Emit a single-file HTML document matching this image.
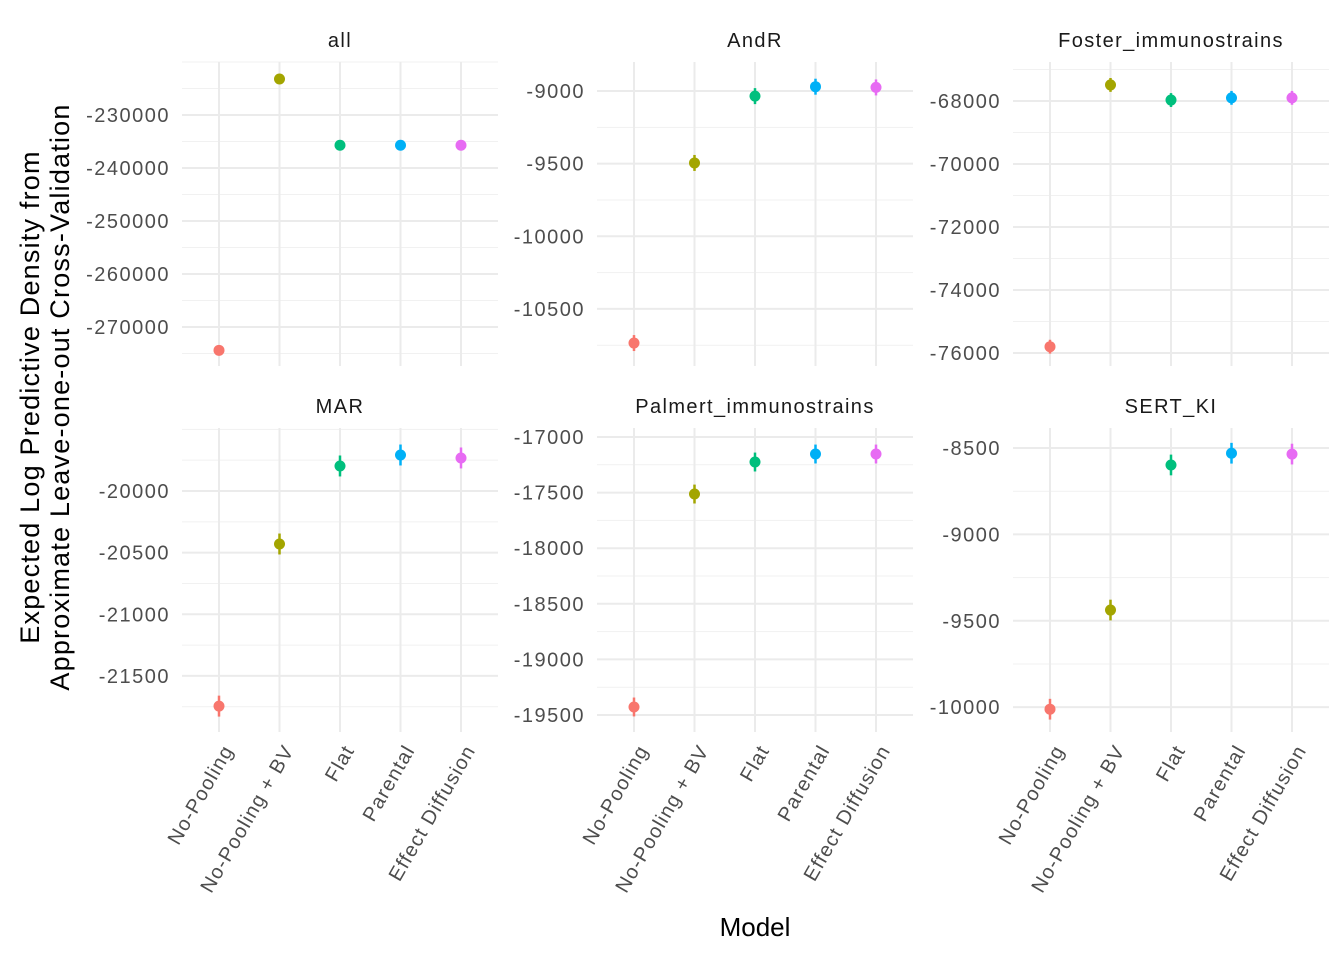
<!DOCTYPE html>
<html><head><meta charset="utf-8"><style>
html,body{margin:0;padding:0;background:#fff;}
svg{display:block;font-family:"Liberation Sans",sans-serif;}
</style></head><body>
<svg id="chart" width="1344" height="960"></svg>
<script>
const categories = ["No-Pooling","No-Pooling + BV","Flat","Parental","Effect Diffusion"];
const colors = ["#F8766D","#A3A500","#00BF7D","#00B0F6","#E76BF3"];
const panelTitles = ["all","AndR","Foster_immunostrains","MAR","Palmert_immunostrains","SERT_KI"];
const valsAll = [-274400,-223200,-235700,-235700,-235700];
const valsAndR = [-10735,-9495,-9035,-8970,-8975];
const valsFoster = [-75800,-67490,-67970,-67900,-67900];
const valsMAR = [-21745,-20430,-19797,-19708,-19732];
const valsPalmert = [-19428,-17513,-17225,-17153,-17153];
const valsSERT = [-10012,-9438,-8598,-8530,-8535];
const errAll = [900,700,500,500,500];
const errAndR = [55,55,55,55,55];
const errFoster = [220,220,220,220,220];
const errMAR = [85,85,85,85,85];
const errPalmert = [85,85,85,85,85];
const errSERT = [60,60,60,60,60];
const ticksAll = [-230000,-240000,-250000,-260000,-270000];
const ticksAndR = [-9000,-9500,-10000,-10500];
const ticksFoster = [-68000,-70000,-72000,-74000,-76000];
const ticksMAR = [-20000,-20500,-21000,-21500];
const ticksPalmert = [-17000,-17500,-18000,-18500,-19000,-19500];
const ticksSERT = [-8500,-9000,-9500,-10000];
const domains = [[-277358,-220000],[-10893,-8800],[-76413,-66762],[-21955,-19489],[-19653,-16919],[-10144,-8384]];

const values=[valsAll,valsAndR,valsFoster,valsMAR,valsPalmert,valsSERT];
const errs=[errAll,errAndR,errFoster,errMAR,errPalmert,errSERT];
const ticks=[ticksAll,ticksAndR,ticksFoster,ticksMAR,ticksPalmert,ticksSERT];
const svg=document.getElementById('chart');
const NS="http://www.w3.org/2000/svg";
function mk(tag,attrs,parent){const e=document.createElementNS(NS,tag);for(const k in attrs)e.setAttribute(k,attrs[k]);(parent||svg).appendChild(e);return e;}
function cat(i){return categories[i].toLowerCase().replace(/[^a-z]+/g,'-');}
const colL=[182,597,1013], colW=316;
const rowT=[62,428], rowH=304;
for(let p=0;p<6;p++){
  const c=p%3,r=Math.floor(p/3);
  const L=colL[c],T=rowT[r],B=T+rowH;
  const g=mk('g',{});
  
  
  const [dmin,dmax]=domains[p];
  const y=v=>B-(v-dmin)/(dmax-dmin)*rowH;
  const step=categories.length;
  const x=i=>L+37+i*(colW-74)/(step-1);
  const tk=ticks[p]; const d=Math.abs(tk[0]-tk[1]);
  const start=Math.ceil(dmin/(d/2))*(d/2);
  for(let v=start;v<=dmax;v+=d/2){
    if(tk.some(t=>Math.abs(t-v)<1e-6))continue;
    mk('line',{x1:L,x2:L+colW,y1:y(v),y2:y(v),stroke:'#f1f1f1','stroke-width':1},g);
  }
  tk.forEach(t=>{
    const ln=mk('line',{x1:L,x2:L+colW,y1:y(t),y2:y(t),stroke:'#ebebeb','stroke-width':2},g);
    
    
    const tx=mk('text',{x:L-12,y:y(t)+7,'text-anchor':'end','font-size':20,'letter-spacing':1.5,fill:'#4d4d4d'},g);
    tx.textContent=t;
    
    
  });
  categories.forEach((cn,i)=>{
    mk('line',{x1:x(i),x2:x(i),y1:T,y2:B,stroke:'#ebebeb','stroke-width':2},g);
    if(r===1){
      const tx=mk('text',{x:0,y:0,'text-anchor':'end','font-size':20,'letter-spacing':1.2,fill:'#4d4d4d',transform:`translate(${x(i)+15},${B+18}) rotate(-60)`},g);
      tx.textContent=cn;
      
      
    }
  });
  const st=mk('text',{x:L+colW/2,y:T-15,'text-anchor':'middle','font-size':20,'letter-spacing':1.4,fill:'#1a1a1a'},g);
  st.textContent=panelTitles[p];
  
  
  values[p].forEach((v,i)=>{
    const e=errs[p][i];
    const ln=mk('line',{x1:x(i),x2:x(i),y1:y(v-e),y2:y(v+e),stroke:colors[i],'stroke-width':2.5},g);
    
    
    const ci=mk('circle',{cx:x(i),cy:y(v),r:5.5,fill:colors[i]},g);
    
    
  });
}
const xt=mk('text',{x:755,y:936,'text-anchor':'middle','font-size':26,fill:'#000'});
xt.textContent='Model';


const yt=mk('text',{'text-anchor':'middle','font-size':27,'letter-spacing':1.2,fill:'#000',transform:'translate(39,397) rotate(-90)'});


const t1=mk('tspan',{x:0,y:0},yt);t1.textContent='Expected Log Predictive Density from';
const t2=mk('tspan',{x:0,y:30},yt);t2.textContent='Approximate Leave-one-out Cross-Validation';
</script>
</body></html>
